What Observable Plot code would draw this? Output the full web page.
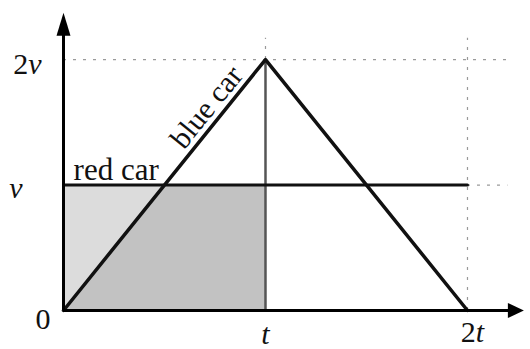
<!DOCTYPE html>
<html>
<head>
<meta charset="utf-8">
<script src="https://cdn.jsdelivr.net/npm/d3@7"></script>
<script src="https://cdn.jsdelivr.net/npm/@observablehq/plot@0.6"></script>
<style>
  html, body { margin: 0; padding: 0; background: #fff; }
  svg text { font-family: "Liberation Serif", "Times New Roman", serif; }
</style>
</head>
<body>
<div id="chart"></div>
<script>
// time in units of t, speed in units of v
const times = [0, 1, 2];
const blueSpeed = [0, 2, 0];
const redSpeed = [1, 1, 1];
const shadeTimes = [0, 0.5, 1];
const shadeSpeed = [0, 1, 1];
const xTickValues = [1, 2];
const xTickLabels = ["t", "2t"];
const yTickValues = [0, 1, 2];
const yTickLabels = ["0", "v", "2v"];

const blue = times.map((x, i) => ({x, y: blueSpeed[i]}));
const red = times.map((x, i) => ({x, y: redSpeed[i]}));
const shade = shadeTimes.map((x, i) => ({x, y: shadeSpeed[i]}));

const serif = "'Liberation Serif', 'Times New Roman', serif";

const arrowUp = {draw(ctx) { ctx.moveTo(0, -23); ctx.lineTo(7, 0); ctx.lineTo(-7, 0); ctx.closePath(); }};
const arrowSmall = {draw(ctx) { ctx.moveTo(0, -16); ctx.lineTo(7.5, 0); ctx.lineTo(-7.5, 0); ctx.closePath(); }};

const dash = {stroke: "#9a9a9a", strokeWidth: 1.2, strokeDasharray: "3,7"};
const txt = {fontFamily: serif, fill: "#111", lineAnchor: "bottom"};

const chart = Plot.plot({
  width: 530,
  height: 349,
  marginLeft: 63,
  marginRight: 0,
  marginTop: 12,
  marginBottom: 39,
  x: {domain: [0, 2.312], axis: null},
  y: {domain: [0, 2.375], axis: null},
  style: {fontFamily: serif, background: "#fff", overflow: "visible"},
  marks: [
    // shaded distance of red car
    Plot.rectY([{x1: 0, x2: 1, y: redSpeed[0]}], {x1: "x1", x2: "x2", y: "y", fill: "#dcdcdc"}),
    Plot.areaY(shade, {x: "x", y: "y", fill: "#c2c2c2"}),
    // dashed guides
    Plot.ruleY([blueSpeed[1]], {x1: 0, x2: 2.2, ...dash}),
    Plot.ruleY([redSpeed[2]], {x1: 2, x2: 2.2, ...dash}),
    Plot.ruleX([xTickValues[0]], {y1: 2, y2: 2.17, ...dash}),
    Plot.ruleX([xTickValues[1]], {y1: 0, y2: 2.17, ...dash}),
    // vertical at t
    Plot.ruleX([xTickValues[0]], {y1: 0, y2: 2, stroke: "#555", strokeWidth: 2.5}),
    // red car
    Plot.line(red, {x: "x", y: "y", stroke: "#111", strokeWidth: 3}),
    // blue car
    Plot.line(blue, {x: "x", y: "y", stroke: "#111", strokeWidth: 3.5}),
    // axes
    Plot.ruleX([0], {y1: 0, y2: 2.25, stroke: "#000", strokeWidth: 3}),
    Plot.ruleY([0], {x1: 0, x2: 2.22, stroke: "#000", strokeWidth: 3}),
    Plot.dot([{x: 0, y: 2.19}], {x: "x", y: "y", symbol: arrowUp, fill: "#000", stroke: "none", r: 5}),
    Plot.dot([{x: 2.2, y: 0}], {x: "x", y: "y", symbol: arrowSmall, fill: "#000", stroke: "none", r: 5, rotate: 90}),
    // tick labels
    Plot.text([yTickLabels[2]], {x: 0, y: yTickValues[2], text: d => d, textAnchor: "end", dx: -22, dy: 14, fontSize: 30, ...txt}),
    Plot.text([yTickLabels[1]], {x: 0, y: yTickValues[1], text: d => d, textAnchor: "end", dx: -41, dy: 13, fontSize: 30, ...txt}),
    Plot.text([yTickLabels[0]], {x: 0, y: yTickValues[0], text: d => d, textAnchor: "end", dx: -13, dy: 18, fontSize: 30, ...txt}),
    Plot.text([xTickLabels[0]], {x: xTickValues[0], y: 0, text: d => d, dy: 33, fontSize: 30, ...txt}),
    Plot.text([xTickLabels[1]], {x: xTickValues[1], y: 0, text: d => d, dx: 5, dy: 31, fontSize: 30, ...txt}),
    // series labels
    Plot.text(["red car"], {x: 0.05, y: redSpeed[0], text: d => d, textAnchor: "start", dy: -5, fontSize: 31, ...txt}),
    Plot.text(["blue car"], {x: 0.77, y: 1.54, text: d => d, textAnchor: "middle", rotate: -51, dx: -5, dy: -4, fontSize: 30, ...txt})
  ]
});

// italicise the variable letters in tick labels
d3.select(chart).selectAll("text").each(function() {
  const el = d3.select(this);
  const s = el.text();
  if (/^2?[vt]$/.test(s)) {
    el.text(null);
    for (const ch of s) {
      const ts = el.append("tspan").text(ch);
      if (ch === "v" || ch === "t") ts.attr("font-style", "italic");
    }
  }
});

document.getElementById("chart").appendChild(chart);
</script>
</body>
</html>
